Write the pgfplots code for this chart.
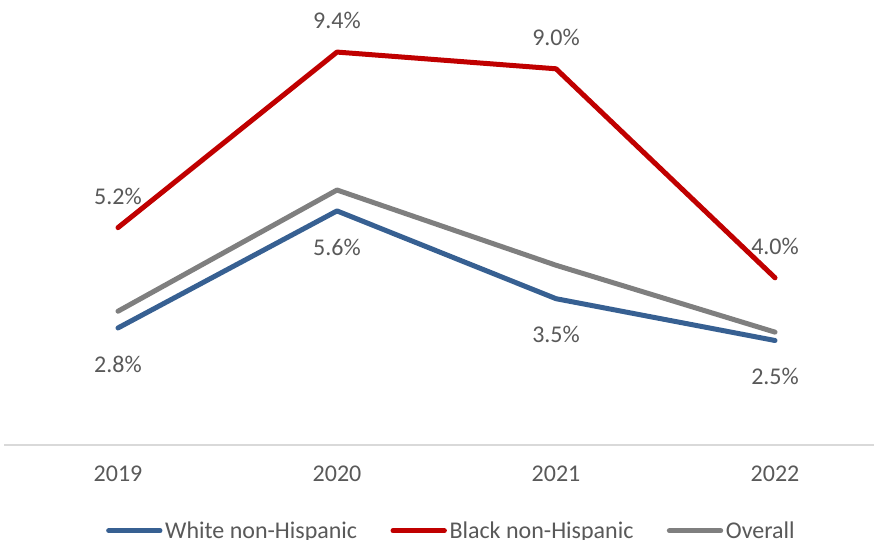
\documentclass[border=0pt]{standalone}
\usepackage{pgfplots}
\pgfplotsset{compat=1.18}
\usepackage{fontspec}
\setmainfont{Carlito}
\definecolor{cblue}{HTML}{376092}
\definecolor{cred}{HTML}{C00000}
\definecolor{cgray}{HTML}{7F7F7F}
\definecolor{ctext}{HTML}{595959}
\definecolor{caxis}{HTML}{D9D9D9}
\begin{document}
\begin{tikzpicture}
\begin{axis}[
  at={(3pt,70.5pt)}, anchor=south west,
  scale only axis, width=660.4pt, height=313.5pt,
  xmin=-0.5205, xmax=3.5, ymin=0, ymax=10,
  axis x line*=bottom, x axis line style={-, draw=caxis, line width=1.5pt},
  axis y line=none,
  xtick={0,1,2,3}, xticklabels={2019,2020,2021,2022},
  major tick length=0pt,
  xticklabel style={font=\fontsize{18}{21}\selectfont, text=ctext, yshift=-12pt},
  clip=false,
  every axis plot/.append style={line width=3.75pt, line cap=round, line join=round},
  legend columns=3,
  legend style={at={(0.5085,-0.205)}, anchor=center, draw=none, inner sep=0pt,
    font=\fontsize{18}{21}\selectfont, text=ctext,
    /tikz/every even column/.append style={column sep=23pt}},
  legend image code/.code={\draw[#1, line cap=round] (0pt,0pt) -- (38.5pt,0pt);},
  nodes near coords style={font=\fontsize{18}{21}\selectfont, text=ctext, anchor=center},
]
\addplot[cblue, point meta=explicit symbolic, nodes near coords, nodes near coords style={yshift=-27pt}]
  coordinates {(0,2.8)[2.8\%] (1,5.6)[5.6\%] (2,3.5)[3.5\%] (3,2.5)[2.5\%]};
\addlegendentry{White non-Hispanic}
\addplot[cred, point meta=explicit symbolic, nodes near coords, nodes near coords style={yshift=23.5pt}]
  coordinates {(0,5.2)[5.2\%] (1,9.4)[9.4\%] (2,9.0)[9.0\%] (3,4.0)[4.0\%]};
\addlegendentry{Black non-Hispanic}
\addplot[cgray]
  coordinates {(0,3.2) (1,6.1) (2,4.3) (3,2.7)};
\addlegendentry{Overall}
\end{axis}
\pgfresetboundingbox
\useasboundingbox (0,0) rectangle (655.5pt,404.25pt);
\end{tikzpicture}
\end{document}
